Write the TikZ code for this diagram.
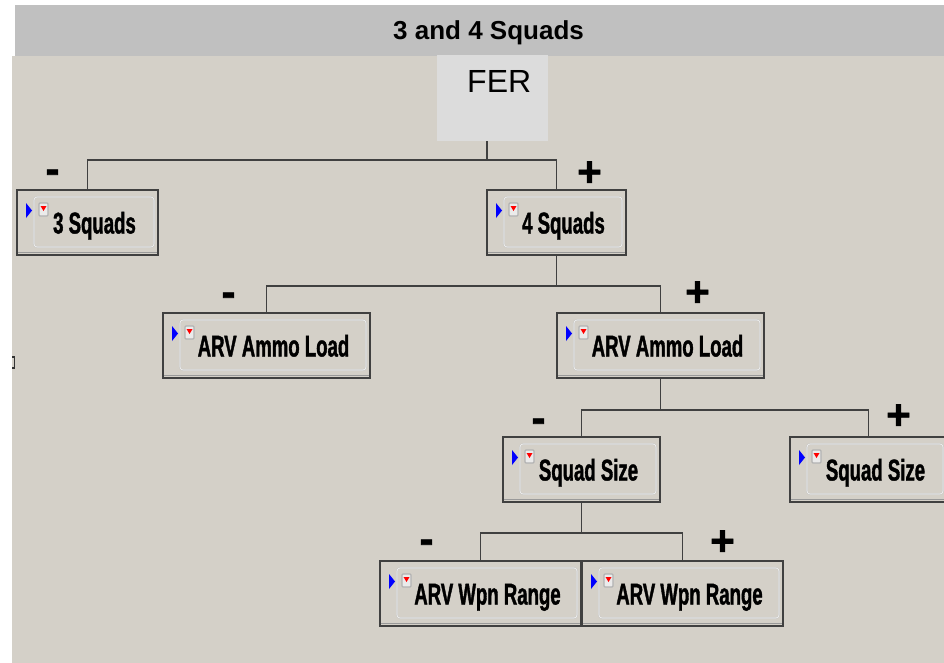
\documentclass[tikz,border=0pt]{standalone}
\usepackage{fontspec}
\setmainfont{Liberation Sans}
\newfontfamily\factorfont[FakeStretch=0.62, BoldFeatures={FakeBold=1.2}]{Liberation Sans}
\newfontfamily\signfont[BoldFeatures={FakeBold=1.5}]{Liberation Sans}
\definecolor{panel}{HTML}{D4D0C8}
\definecolor{header}{HTML}{C0C0C0}
\definecolor{ferbox}{HTML}{DCDCDC}
\definecolor{wire}{HTML}{404040}
\tikzset{
  factor/.style={draw=wire, line width=1.2pt, fill=panel, minimum width=#1, minimum height=65pt,
    inner sep=0pt, text height=22pt, text depth=0pt,
    font=\factorfont\bfseries\fontsize{30}{30}\selectfont,
    execute at begin node=\hspace*{14pt},
    path picture={
      \coordinate (nw) at (path picture bounding box.north west);
      \coordinate (sw) at (path picture bounding box.south west);
      \coordinate (se) at (path picture bounding box.south east);
      % inner button
      \draw[rounded corners=3pt, draw=black!22, line width=1.6pt] ([shift={(17pt,-7pt)}]nw) rectangle ([shift={(-4pt,8pt)}]se);
      \draw[rounded corners=3pt, draw=white!80!panel, line width=0.6pt] ([shift={(17pt,-7pt)}]nw) rectangle ([shift={(-4pt,8pt)}]se);
      % blue arrow
      \fill[blue] ([shift={(9pt,-13pt)}]nw) -- ([shift={(9pt,-28pt)}]nw) -- ([shift={(15pt,-20.5pt)}]nw) -- cycle;
      % red icon
      \filldraw[fill=black!8, draw=black!30, rounded corners=1pt] ([shift={(22pt,-13pt)}]nw) rectangle ([shift={(31pt,-26pt)}]nw);
      \fill[red] ([shift={(23.5pt,-16pt)}]nw) -- ([shift={(29.5pt,-16pt)}]nw) -- ([shift={(26.5pt,-21pt)}]nw) -- cycle;
      % shadow
      \draw[black!40, line width=1.5pt] ([yshift=2.5pt]sw) -- ([yshift=2.5pt]se);
    }},
  link/.style={draw=wire, line width=1.8pt},
  sign/.style={font=\signfont\bfseries\fontsize{42}{42}\selectfont, inner sep=0pt, text height=29.4pt, text depth=0pt}
}
\begin{document}
\begin{tikzpicture}[x=1pt,y=-1pt]
\useasboundingbox (0,0) rectangle (944,663);
\fill[white] (0,0) rectangle (944,663);
\fill[panel] (12,56) rectangle (944,663);
\fill[header] (15,5) rectangle (944,56);
\node[font=\bfseries\fontsize{26}{26}\selectfont, anchor=base] (title) at (488.5,40) {3 and 4 Squads};
\draw[black!80, line width=1.2pt] (12,357) -- (14.5,357) -- (14.5,368) -- (12,368);

\node[fill=ferbox, minimum width=111pt, minimum height=86pt, inner sep=0pt, anchor=north west,
  font=\fontsize{32}{32}\selectfont, text height=23pt, text depth=35pt,
  execute at begin node=\hspace*{13pt}] (fer) at (437,55) {FER};

\node[factor=141pt] (s3) at (87.5,222.5) {3 Squads};
\node[factor=139pt] (s4) at (556.5,222.5) {4 Squads};
\node[factor=207pt] (ammoL) at (266.5,345.5) {ARV Ammo Load};
\node[factor=207pt] (ammoR) at (660.5,345.5) {ARV Ammo Load};
\node[factor=157pt] (sizeL) at (581.5,469.5) {Squad Size};
\node[factor=157pt] (sizeR) at (868.5,469.5) {Squad Size};
\node[factor=201pt] (rangeL) at (480.5,593.5) {ARV Wpn Range};
\node[factor=201pt] (rangeR) at (682.5,593.5) {ARV Wpn Range};

% edit here for the tree lines
\foreach \c in {s3,s4}
\draw[link] ([xshift=-6pt]fer.south) -- ++(0,19) -| (\c.north);
\foreach \p/\c/\d in {s4/ammoL/30, s4/ammoR/30, ammoR/sizeL/31, ammoR/sizeR/31, sizeL/rangeL/30, sizeL/rangeR/30}
\draw[link] (\p.south) -- ++(0,\d) -| (\c.north);

% edit here for -'s
\foreach \c/\dx/\dy in {s3/-35/-21, ammoL/-38/-21, sizeL/-43/-19, rangeL/-54/-22}
\node[sign] (minus-\c) at ([shift={(\dx,\dy)}]\c.north) {-};
% edit here for +'s
\foreach \c/\dx/\dy in {s4/33/-18, ammoR/37/-21, sizeR/30/-22, rangeR/40/-20}
\node[sign] (plus-\c) at ([shift={(\dx,\dy)}]\c.north) {+};
\end{tikzpicture}
\end{document}
